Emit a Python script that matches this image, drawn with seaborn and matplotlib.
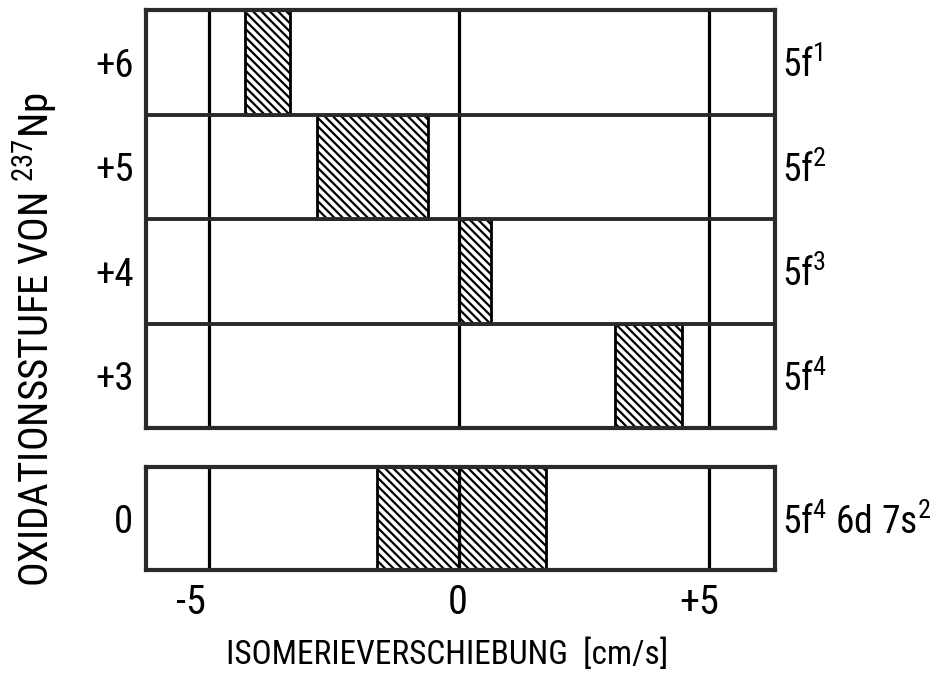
import matplotlib
matplotlib.use("Agg")
import matplotlib.pyplot as plt
from matplotlib import font_manager
from matplotlib.transforms import ScaledTranslation
import seaborn as sns
import pandas as pd
import numpy as np

# ---------------- data ----------------
states = ["+6", "+5", "+4", "+3"]
configs = [r"5f$^{1}$", r"5f$^{2}$", r"5f$^{3}$", r"5f$^{4}$"]
shift_lo = [-4.28, -2.84, 0.00, 3.12]
shift_hi = [-3.38, -0.62, 0.64, 4.46]

metal_state = ["0"]
metal_config = [r"5f$^{4}$ 6d 7s$^{2}$"]
metal_lo = [-1.64]
metal_hi = [1.74]

xticks = [-5, 0, 5]
xticklabels = ["-5", "0", "+5"]
xlim = (-6.26, 6.32)

xlabel = "ISOMERIEVERSCHIEBUNG  [cm/s]"
ylabel = r"OXIDATIONSSTUFE VON $^{237}$Np"


def pick_font():
    """Return (family, stretch) of the most condensed sans font available."""
    info = {}
    for f in font_manager.fontManager.ttflist:
        info.setdefault(f.name, set()).add(str(f.stretch))
    for name in ["Liberation Sans Narrow", "Roboto Condensed",
                 "Noto Sans Condensed", "Open Sans Condensed",
                 "DejaVu Sans Condensed", "Arial Narrow"]:
        if name in info:
            return name, "normal"
    for name in ["DejaVu Sans", "Noto Sans", "Roboto", "Open Sans"]:
        if name in info and ("condensed" in info[name]):
            return name, "condensed"
    for name in sorted(info):
        if ("Narrow" in name or "Condensed" in name) and "Mono" not in name \
                and "Serif" not in name and "Extra" not in name:
            return name, "normal"
    return "DejaVu Sans", "normal"


sns.set_style("white")
FONT, STRETCH = pick_font()
plt.rcParams["font.family"] = [FONT, "DejaVu Sans"]
plt.rcParams["font.stretch"] = STRETCH
plt.rcParams["mathtext.fontset"] = "custom"
plt.rcParams["mathtext.rm"] = FONT
plt.rcParams["mathtext.it"] = FONT
plt.rcParams["mathtext.bf"] = FONT
plt.rcParams["mathtext.default"] = "rm"
plt.rcParams["hatch.linewidth"] = 1.6
plt.rcParams["hatch.color"] = "black"
plt.rcParams["text.color"] = "black"
plt.rcParams["xtick.color"] = "black"
plt.rcParams["ytick.color"] = "black"

fig = plt.figure(figsize=(9.38, 6.84), dpi=100)
W, H = 938, 684
L, R = 146, 775
ax_top = fig.add_axes([L / W, 1 - 428 / H, (R - L) / W, (428 - 10) / H])
ax_bot = fig.add_axes([L / W, 1 - 570 / H, (R - L) / W, (570 - 467) / H])

frame_col = "#2a2a2a"
HATCH = "\\\\\\\\"   # four backslashes -> ~8 px line spacing


def draw_panel(ax, cats, lo, hi, cfgs):
    df = pd.DataFrame({"state": cats, "width": np.subtract(hi, lo), "lo": lo})
    sns.barplot(data=df, x="width", y="state", order=cats, orient="h",
                left=df["lo"].to_numpy(), width=1.0, color="white",
                edgecolor="black", linewidth=2.0, hatch=HATCH,
                errorbar=None, ax=ax, zorder=2)
    ax.set_xlim(*xlim)
    ax.set_ylim(len(cats) - 0.5, -0.5)
    for xv in xticks:
        ax.axvline(xv, color="black", lw=2.3, zorder=3)
    for i in range(len(cats) - 1):
        ax.axhline(i + 0.5, color=frame_col, lw=2.8, zorder=3)
    for sp in ax.spines.values():
        sp.set_visible(True)
        sp.set_color(frame_col)
        sp.set_linewidth(3.0)
        sp.set_zorder(4)
    ax.set_xlabel("")
    ax.set_ylabel("")
    ax.tick_params(axis="y", length=0, pad=9, labelsize=28)
    ax.tick_params(axis="x", length=0)
    trans = ax.get_yaxis_transform() + ScaledTranslation(0, -15 / 100,
                                                          fig.dpi_scale_trans)
    for i, c in enumerate(cfgs):
        ax.text(1.011, i, c, transform=trans, ha="left", va="baseline",
                fontsize=27)


draw_panel(ax_top, states, shift_lo, shift_hi, configs)
draw_panel(ax_bot, metal_state, metal_lo, metal_hi, metal_config)

ax_top.set_xticks(xticks)
ax_top.set_xticklabels([])
ax_bot.set_xticks(xticks)
ax_bot.set_xticklabels(xticklabels, fontsize=29)
ax_bot.tick_params(axis="x", pad=9)
# hand-lettered labels sit slightly left of their ticks
for lab, dx in zip(ax_bot.get_xticklabels(), [-18, -1, -10]):
    lab.set_transform(lab.get_transform() +
                      ScaledTranslation(dx / 100, 0, fig.dpi_scale_trans))

fig.text(447 / W, 1 - 655 / H, xlabel, ha="center", va="center", fontsize=24)
fig.text(35 / W, 1 - 340 / H, ylabel, ha="center", va="center",
         rotation=90, fontsize=29.5)

fig.savefig("out.png", dpi=100, facecolor="white")
